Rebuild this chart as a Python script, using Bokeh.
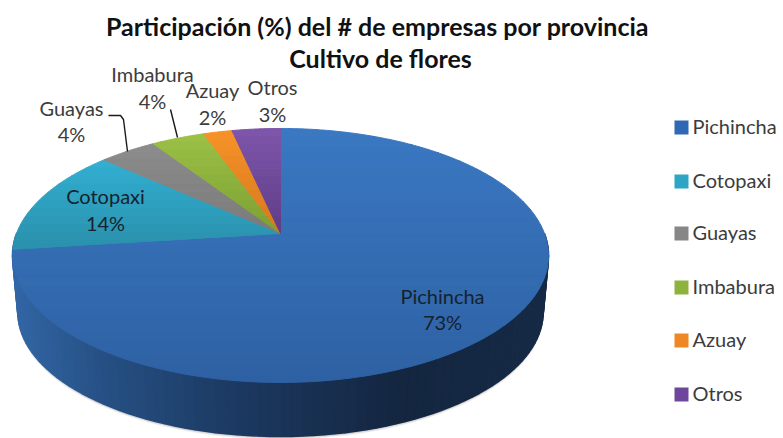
import numpy as np
from bokeh.plotting import figure
from bokeh.models import Range1d
from bokeh.core.properties import value
from bokeh.embed import file_html
from bokeh.resources import INLINE

categories = ["Pichincha", "Cotopaxi", "Guayas", "Imbabura", "Azuay", "Otros"]
shares = [73.0, 13.6, 4.1, 3.8, 2.05, 3.45]
top_light = ["#3A78C2", "#32AFD2", "#8C8C8C", "#9CC146", "#F79228", "#7E56AB"]
top_dark = ["#2E61A3", "#2A90AC", "#7A7A7A", "#7C9F32", "#D6781E", "#5F3C87"]
legend_colors = ["#2F69B5", "#2FA5C6", "#868686", "#8DB33E", "#EE8725", "#6C479C"]
title_lines = ["Participación (%) del # de empresas por provincia", "Cultivo de flores"]

CX, APEX_Y, K, A, C = 280.0, 233.0, 264.0, 123.2, 0.173
DEPTH, DEPTH_SCALE = 57.0, 0.98


def project(theta):
    u, v = np.sin(theta), np.cos(theta)
    w = 1 + C * v
    return K * u / w, -A * v / w


def hex_rgb(h):
    return np.array([int(h[i:i + 2], 16) for i in (1, 3, 5)], dtype=float)


def rgb_hex(c):
    return "#%02x%02x%02x" % tuple(int(round(x)) for x in c)


def clip(poly, y0, y1):
    def half(pts, lim, keep_below):
        out = []
        n = len(pts)
        for i in range(n):
            a, b = pts[i], pts[(i + 1) % n]
            ia = a[1] >= lim if keep_below else a[1] <= lim
            ib = b[1] >= lim if keep_below else b[1] <= lim
            if ia:
                out.append(a)
            if ia != ib:
                t = (lim - a[1]) / (b[1] - a[1])
                out.append((a[0] + t * (b[0] - a[0]), lim))
        return out
    pts = half(poly, y0, True)
    return half(pts, y1, False) if pts else []


p = figure(width=783, height=438, output_backend="svg", toolbar_location=None,
           x_range=Range1d(0, 783), y_range=Range1d(438, 0), min_border=0,
           outline_line_color=None, background_fill_color="white", border_fill_color="white")
p.axis.visible = False
p.grid.visible = False

# side wall
theta_front = np.radians(np.linspace(90, 270, 91))
fx, fy = project(theta_front)
top_x, top_y = CX + fx, APEX_Y + fy
bot_x, bot_y = CX + fx * DEPTH_SCALE, APEX_Y + fy * DEPTH_SCALE + DEPTH

# soft shadow round the wall
for off, alpha in ((3.0, 0.10), (2.0, 0.15), (1.0, 0.25)):
    p.patch(np.r_[top_x, bot_x[::-1]], np.r_[top_y, (bot_y + off)[::-1]],
            fill_color="#606060", fill_alpha=alpha, line_color=None)

side_stops = [(11, (50, 102, 165)), (100, (38, 80, 132)), (230, (28, 58, 98)), (400, (20, 38, 64)), (548, (22, 42, 70))]
sx, sy, sc = [], [], []
for i in range(len(theta_front) - 1):
    sx.append([top_x[i], top_x[i + 1], bot_x[i + 1], bot_x[i]])
    sy.append([top_y[i], top_y[i + 1], bot_y[i + 1], bot_y[i]])
    xm = (top_x[i] + top_x[i + 1]) / 2
    c = [np.interp(xm, [s[0] for s in side_stops], [s[1][k] for s in side_stops]) for k in range(3)]
    sc.append(rgb_hex(c))
p.patches(sx, sy, fill_color=sc, line_color=sc, line_width=1.5)

# top face
edges = np.r_[0, np.cumsum(shares)] / sum(shares) * 2 * np.pi
wx, wy, wc = [], [], []
for i, cat in enumerate(categories):
    th = np.linspace(edges[i], edges[i + 1], max(int(shares[i] * 6), 8))
    rx, ry = project(th)
    poly = [(CX, APEX_Y)] + list(zip(CX + rx, APEX_Y + ry))
    ymin = min(q[1] for q in poly)
    ymax = max(q[1] for q in poly)
    a_col, b_col = hex_rgb(top_light[i]), hex_rgb(top_dark[i])
    bands = np.linspace(ymin, ymax, max(int((ymax - ymin) / 8), 4) + 1)
    for j in range(len(bands) - 1):
        part = clip(poly, bands[j], bands[j + 1])
        if len(part) < 3:
            continue
        wx.append([q[0] for q in part])
        wy.append([q[1] for q in part])
        wc.append(rgb_hex(a_col + (b_col - a_col) * (j + 0.5) / (len(bands) - 1)))
p.patches(wx, wy, fill_color=wc, line_color=wc, line_width=1.0)

# leader lines
p.line([108, 120, 123, 127], [115, 115, 119, 151], line_color="#1a1a1a", line_width=1.4)
p.line([170, 177], [109, 137], line_color="#1a1a1a", line_width=1.4)

# data labels
label_pos = {"Pichincha": (442, 295, 321), "Cotopaxi": (105, 195, 222), "Guayas": (71, 107, 133),
             "Imbabura": (152, 73, 100), "Azuay": (212, 89, 116), "Otros": (272, 86, 113)}
for cat, share in zip(categories, shares):
    x, y1, y2 = label_pos[cat]
    dark = cat in ("Pichincha", "Cotopaxi")
    col = "#15222e" if dark else "#3c3c3c"
    p.text([x], [y1], text=[cat], text_font=value("Lato"), text_font_size="20px", text_align="center",
           text_baseline="middle", text_color=col)
    p.text([x], [y2], text=[f"{round(share)}%"], text_font=value("Lato"), text_font_size="20px", text_align="center",
           text_baseline="middle", text_color=col)

# title
for line, x, y in zip(title_lines, (377, 380), (25, 57)):
    p.text([x], [y], text=[line], text_font=value("Lato"), text_font_size="25px", text_font_style="bold",
           text_align="center", text_baseline="middle", text_color="#111111")

# legend
legend_y = [127, 181, 233, 287, 340, 394]
p.rect([681] * 6, legend_y, width=14, height=14, fill_color=legend_colors, line_color=None)
p.text([692] * 6, [y - 2 for y in legend_y], text=categories, text_font=value("Lato"), text_font_size="20px",
       text_align="left", text_baseline="middle", text_color="#3c3c3c")

open("out.html", "w").write(file_html(p, INLINE))
